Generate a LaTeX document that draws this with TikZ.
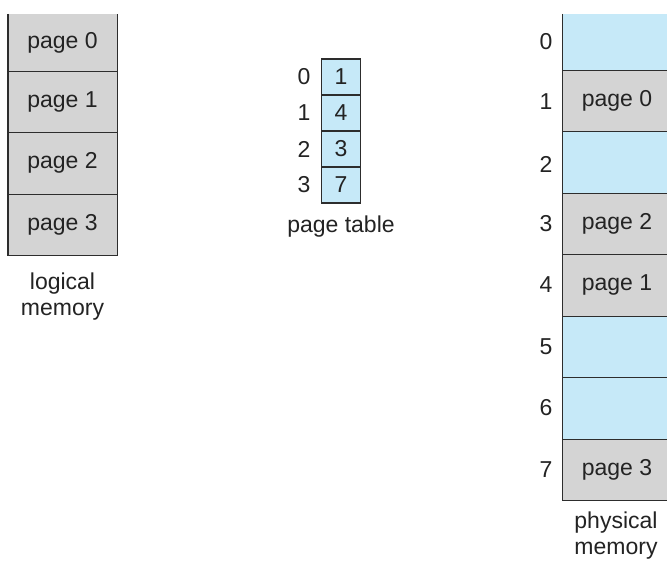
\documentclass[tikz,border=0pt]{standalone}
\usepackage{fontspec}
\setmainfont{Liberation Sans}
\definecolor{pagegray}{RGB}{212,212,212}
\definecolor{framefree}{RGB}{198,233,248}
\definecolor{edge}{RGB}{45,45,45}
\definecolor{ink}{RGB}{35,35,35}
\begin{document}
\begin{tikzpicture}[x=1pt,y=-1pt,
  every node/.style={text=ink,font=\fontsize{23}{26}\selectfont,inner sep=0pt},
  cell/.style={minimum width=109pt,minimum height=61.5pt,draw=none},
  used/.style={cell,fill=pagegray},
  free/.style={cell,fill=framefree},
  ptcell/.style={minimum width=38.5pt,minimum height=36pt,fill=framefree,draw=edge,line width=1.4pt},
  idx/.style={anchor=center},
  caption/.style={align=center},
  border/.style={draw=edge,line width=1.4pt}]
\useasboundingbox (0,0) rectangle (667,562);
\clip (0,0) rectangle (667,562);
\fill[white] (0,0) rectangle (667,562);

% logical memory
\node[used,minimum height=57pt] (l0) at (62.5,42.5) {page 0};
\node[used] (l1) at (62.5,101.75) {page 1};
\node[used] (l2) at (62.5,163.25) {page 2};
\node[used] (l3) at (62.5,224.75) {page 3};
\draw[border] (l0.north west) -- (l3.south west) -- (l3.south east) -- (l0.north east);
\foreach \a/\b in {l0/l1,l1/l2,l2/l3}
  \draw[border] (\a.south west) -- (\a.south east);
\node[caption] (lcap) at (62.5,297) {logical\\memory};

% page table
\node[ptcell] (t0) at (341,77) {1};
\node[ptcell] (t1) at (341,113) {4};
\node[ptcell] (t2) at (341,149) {3};
\node[ptcell] (t3) at (341,185) {7};
\foreach \i in {0,...,3}
  \node[idx] (ti\i) at (304,77+36*\i) {\i};
\node (tcap) at (341,227) {page table};

% physical memory
\node[free,minimum height=56pt] (f0) at (617,42) {};
\node[used] (f1) at (617,100.75) {page 0};
\node[free] (f2) at (617,162.25) {};
\node[used] (f3) at (617,223.75) {page 2};
\node[used] (f4) at (617,285.25) {page 1};
\node[free] (f5) at (617,346.75) {};
\node[free] (f6) at (617,408.25) {};
\node[used] (f7) at (617,469.75) {page 3};
\draw[border] (f0.north west) -- (f7.south west) -- (f7.south east);
\foreach \a/\b in {f0/f1,f1/f2,f2/f3,f3/f4,f4/f5,f5/f6,f6/f7}
  \draw[border] (\a.south west) -- (\a.south east);
\foreach \i/\y in {0/42,1/102,2/164,3/224,4/285,5/347,6/408,7/470}
  \node[idx] (fi\i) at (546,\y) {\i};
\node[caption] (fcap) at (616,535.5) {physical\\memory};
\end{tikzpicture}
\end{document}
